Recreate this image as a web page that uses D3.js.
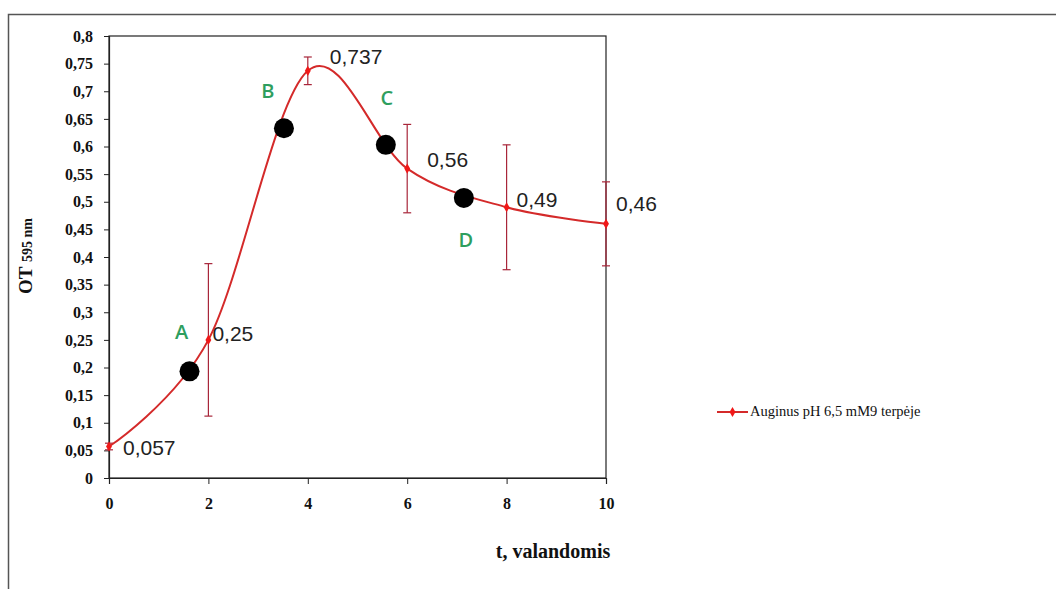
<!DOCTYPE html>
<html>
<head>
<meta charset="utf-8">
<script src="https://cdn.jsdelivr.net/npm/d3@7"></script>
<style>
  body { margin: 0; background: #fff; }
  svg { display: block; }
</style>
</head>
<body>
<div class="js-vis"></div>
<script>
// Measured values
const hours = [0, 2, 4, 6, 8, 10],
    od = [0.057, 0.25, 0.737, 0.56, 0.49, 0.46],
    odErr = [0.006, 0.138, 0.025, 0.08, 0.113, 0.076],
    valueLabels = ["0,057", "0,25", "0,737", "0,56", "0,49", "0,46"]

// Growth phase markers
const phaseNames = ["A", "B", "C", "D"],
    phaseX = [1.62, 3.52, 5.57, 7.14],
    phaseY = [0.193, 0.633, 0.603, 0.507]

const yTicks = [0, 0.05, 0.1, 0.15, 0.2, 0.25, 0.3, 0.35, 0.4, 0.45, 0.5, 0.55, 0.6, 0.65, 0.7, 0.75, 0.8],
    xTicks = [0, 2, 4, 6, 8, 10]

const seriesName = "Auginus pH 6,5 mM9 terpėje"

const W = 1056, H = 589
const margin = { top: 36, left: 109 },
    width = 497,
    height = 442

const fmt = v => String(+v.toFixed(2)).replace(".", ",")

const svg = d3.select(".js-vis").append("svg")
  .attr("width", W)
  .attr("height", H)

// outer frame (top and left visible)
svg.append("path")
  .attr("d", "M8.5," + H + "V14.5H" + W)
  .attr("fill", "none")
  .attr("stroke", "#555")
  .attr("stroke-width", 1.5)

const vis = svg.append("g")
  .attr("transform", "translate(" + margin.left + "," + margin.top + ")")

const x = d3.scaleLinear().domain([0, 10]).range([0, width])
const y = d3.scaleLinear().domain([0, 0.8]).range([height, 0])

vis.append("rect")
  .attr("width", width).attr("height", height)
  .attr("fill", "none").attr("stroke", "#222").attr("stroke-width", 1.2)

const xax = d3.axisBottom(x).tickValues(xTicks).tickSize(6).tickPadding(14).tickFormat(d => d)
const yax = d3.axisLeft(y).tickValues(yTicks).tickSize(5).tickPadding(11).tickFormat(fmt)

const gx = vis.append("g").attr("transform", "translate(0," + height + ")").call(xax)
const gy = vis.append("g").call(yax)

;[gx, gy].forEach(g => {
  g.select(".domain").attr("stroke", "#222").attr("stroke-width", 1.2)
  g.selectAll(".tick line").attr("stroke", "#222")
  g.selectAll("text")
    .attr("fill", "#111")
    .style("font-family", "'Liberation Serif', 'Times New Roman', serif")
    .style("font-weight", "bold")
    .style("font-size", "16px")
})

// axis titles
svg.append("text")
  .attr("x", 553).attr("y", 558)
  .attr("text-anchor", "middle")
  .style("font-family", "'Liberation Serif', 'Times New Roman', serif")
  .style("font-weight", "bold")
  .style("font-size", "20px")
  .attr("fill", "#111")
  .text("t, valandomis")

const yt = svg.append("text")
  .attr("transform", "translate(32,256) rotate(-90)")
  .attr("text-anchor", "middle")
  .style("font-family", "'Liberation Serif', 'Times New Roman', serif")
  .attr("fill", "#111")
yt.append("tspan").style("font-weight", "bold").style("font-size", "19px").text("OT ")
yt.append("tspan").style("font-size", "14px").style("font-weight", "bold").text("595 nm")

const pts = hours.map((h, i) => [h, od[i]])

// error bars
const eb = vis.append("g").attr("stroke", "#a8263a").attr("stroke-width", 1.2)
pts.forEach((p, i) => {
  const cx = x(p[0]), y0 = y(p[1] - odErr[i]), y1 = y(p[1] + odErr[i])
  eb.append("line").attr("x1", cx).attr("x2", cx).attr("y1", y0).attr("y2", y1)
  eb.append("line").attr("x1", cx - 4).attr("x2", cx + 4).attr("y1", y0).attr("y2", y0)
  eb.append("line").attr("x1", cx - 4).attr("x2", cx + 4).attr("y1", y1).attr("y2", y1)
})

const line = d3.line()
  .x(d => x(d[0]))
  .y(d => y(d[1]))
  .curve(d3.curveCatmullRom.alpha(0))

vis.append("path")
  .datum(pts)
  .attr("d", line)
  .attr("fill", "none")
  .attr("stroke", "#d42a2a")
  .attr("stroke-width", 2)

const diamond = d3.symbol().type(d3.symbolDiamond).size(30)
vis.selectAll(".pt")
  .data(pts)
.enter().append("path")
  .attr("class", "pt")
  .attr("transform", d => "translate(" + x(d[0]) + "," + y(d[1]) + ")")
  .attr("d", diamond)
  .attr("fill", "#f01818")

// value labels
const labDx = [14, 4, 22, 20, 10, 10],
    labDy = [8, 1, -7, -2, 0, -13]
vis.selectAll(".vl")
  .data(pts)
.enter().append("text")
  .attr("x", (d, i) => x(d[0]) + labDx[i])
  .attr("y", (d, i) => y(d[1]) + labDy[i])
  .style("font-family", "'Liberation Sans', Arial, sans-serif")
  .style("font-size", "21px")
  .attr("fill", "#222")
  .text((d, i) => valueLabels[i])

// phase markers
vis.selectAll(".ph")
  .data(phaseNames)
.enter().append("circle")
  .attr("cx", (d, i) => x(phaseX[i]))
  .attr("cy", (d, i) => y(phaseY[i]))
  .attr("r", 10)
  .attr("fill", "#000")

const letDx = [-8, -16, 1, 2],
    letDy = [-32, -30, -40, 49]
vis.selectAll(".pl")
  .data(phaseNames)
.enter().append("text")
  .attr("x", (d, i) => x(phaseX[i]) + letDx[i])
  .attr("y", (d, i) => y(phaseY[i]) + letDy[i])
  .attr("text-anchor", "middle")
  .style("font-family", "'Open Sans', sans-serif")
  .style("font-weight", "600")
  .style("font-size", "20px")
  .attr("fill", "#2e9e5e")
  .text(d => d)

// legend
const lg = svg.append("g").attr("transform", "translate(717,412)")
lg.append("line").attr("x1", 0).attr("x2", 31).attr("stroke", "#d42a2a").attr("stroke-width", 2)
lg.append("path").attr("transform", "translate(15.5,0)").attr("d", diamond).attr("fill", "#f01818")
lg.append("text")
  .attr("x", 33).attr("y", 4)
  .style("font-family", "'Liberation Serif', 'Times New Roman', serif")
  .style("font-size", "14.5px")
  .attr("fill", "#111")
  .text(seriesName)
</script>
</body>
</html>
